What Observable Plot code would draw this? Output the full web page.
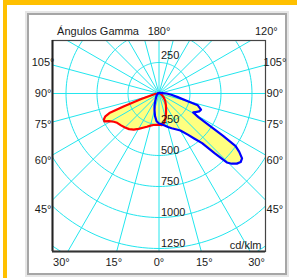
<!DOCTYPE html>
<html><head><meta charset="utf-8">
<script src="https://cdn.jsdelivr.net/npm/d3@7"></script>
<script src="https://cdn.jsdelivr.net/npm/@observablehq/plot@0.6"></script>
<style>
html,body{margin:0;padding:0;background:#fff;}
#wrap{position:relative;width:307px;height:278px;overflow:hidden;font-family:"Liberation Sans",Arial,sans-serif;}
.yt{position:absolute;left:3px;top:0;width:294px;height:5px;background:#ffc000;}
.yl{position:absolute;left:3px;top:0;width:4px;height:278px;background:#ffc000;}
.panel{position:absolute;left:27px;top:13px;width:260px;height:262px;box-sizing:border-box;border:2px solid #a6a6a6;box-shadow:0 0 0 2px #e6e6e6;}
#chart{position:absolute;left:0;top:0;}
</style></head><body>
<div id="wrap"><div class="yt"></div><div class="yl"></div><div class="panel"></div><div id="chart"></div></div>
<script>
// Grid values (cd/klm) and angle labels
const ringValues = [250, 500, 750, 1000, 1250, 1500, 1750];
const ringLabelsBelow = [250, 500, 750, 1000, 1250];
const ringLabelsAbove = [250];
const rayAngles = [0,15,30,45,60,75,90,105,120,135,150,165,180,195,210,225,240,255,270,285,300,315,330,345];
const sideLabelAngles = [105, 90, 75, 60, 45];
const bottomLabelAngles = [30, 15, 0, 15, 30];
const bottomLabelSides = [-1, -1, 0, 1, 1];
const topLabelAngles = [180, 120];
const axisTitle = "Ángulos Gamma";
const unitLabel = "cd/klm";

// Red curve: C0 (right half) and C180 (left half)
const gammaC0 = [0, 5, 10, 15, 20, 25, 30, 40, 50, 60, 75, 90, 120, 150, 180];
const intC0   = [252, 256, 240, 205, 165, 135, 112, 78, 50, 30, 15, 8, 5, 4, 4];
const gammaC180 = [0, 5, 10, 15, 20, 25, 30, 35, 40, 45, 50, 55, 58, 61, 63, 65, 67, 68.5, 70, 72.5, 75, 80, 85, 90, 120, 150, 180];
const intC180   = [252, 254, 258, 268, 285, 305, 330, 355, 375, 388, 400, 412, 430, 460, 495, 490, 470, 430, 300, 150, 80, 45, 25, 12, 6, 4, 4];

// Blue curve: C90 (right half) and C270 (left half)
const gammaC90 = [0, 5, 10, 15, 20, 25, 30, 35, 38, 41, 43, 44.5, 46, 48, 50, 52, 54, 55.5, 56.5, 57.5, 59, 61, 63, 66, 69, 73, 75, 79, 84, 88, 90, 120, 150, 180];
const intC90   = [242, 248, 262, 280, 298, 318, 345, 405, 460, 530, 660, 780, 815, 845, 860, 850, 800, 750, 620, 480, 370, 315, 330, 355, 363, 327, 240, 154, 100, 70, 60, 10, 5, 4];
const gammaC270 = [0, 5, 10, 15, 20, 25, 30, 40, 50, 60, 75, 90, 120, 150, 180];
const intC270   = [242, 225, 185, 140, 105, 75, 55, 35, 25, 18, 12, 10, 6, 4, 4];

const rad = d => d * Math.PI / 180;
function closedCurve(gR, iR, gL, iL) {
  const pts = [];
  gR.forEach((g, k) => pts.push({x: iR[k] * Math.sin(rad(g)), y: iR[k] * Math.cos(rad(g))}));
  for (let k = gL.length - 1; k >= 0; k--) pts.push({x: -iL[k] * Math.sin(rad(gL[k])), y: iL[k] * Math.cos(rad(gL[k]))});
  pts.push(pts[0]);
  return pts;
}
const redPts = closedCurve(gammaC0, intC0, gammaC180, intC180);
const bluePts = closedCurve(gammaC90, intC90, gammaC270, intC270);

const ringPts = [];
ringValues.forEach(r => { for (let t = 0; t <= 360; t += 2) ringPts.push({r, x: r * Math.sin(rad(t)), y: r * Math.cos(rad(t))}); });
const rayLen = 2500;

const sideLabels = sideLabelAngles.flatMap(a => [-1, 1].map(s => ({a, s})));
const sideX = 935, bottomY = 1363, topY = -500;

const grid = "#22e6ee", ink = "#1a1a1a";
const chart = Plot.plot({
  width: 307, height: 278,
  marginLeft: 52, marginRight: 42, marginTop: 40, marginBottom: 27,
  x: {domain: [-859, 859], axis: null},
  y: {domain: [1274.2, -427.4], axis: null},
  style: {background: "transparent", fontFamily: "'Liberation Sans', Arial, sans-serif", fontSize: "11px", color: ink},
  marks: [
    Plot.line(redPts, {x: "x", y: "y", fill: "#ffff80", stroke: "none", clip: true}),
    Plot.line(bluePts, {x: "x", y: "y", fill: "#ffff80", stroke: "none", clip: true}),
    Plot.line(ringPts, {x: "x", y: "y", z: "r", stroke: grid, strokeWidth: 1, clip: true}),
    Plot.link(rayAngles, {x1: () => 0, y1: () => 0, x2: a => rayLen * Math.sin(rad(a)), y2: a => rayLen * Math.cos(rad(a)), stroke: grid, strokeWidth: 1, clip: true}),
    Plot.line(redPts, {x: "x", y: "y", stroke: "#ff0000", strokeWidth: 2.2, strokeLinejoin: "round", clip: true}),
    Plot.line(bluePts, {x: "x", y: "y", stroke: "#0000ff", strokeWidth: 2.2, strokeLinejoin: "round", clip: true}),
    Plot.frame({stroke: "#444", strokeWidth: 1.2}),
    Plot.ruleX([-859], {stroke: "#222", strokeWidth: 2}),
    Plot.ruleY([1274.2], {stroke: "#333", strokeWidth: 2}),
    Plot.text(ringLabelsBelow, {x: () => 0, y: d => d, text: d => String(d), textAnchor: "start", lineAnchor: "bottom", dx: 2, dy: -1, fill: ink}),
    Plot.text(ringLabelsAbove, {x: () => 0, y: d => -d, text: d => String(d), textAnchor: "start", lineAnchor: "bottom", dx: 2, dy: -3, fill: ink}),
    Plot.text(sideLabels, {x: d => d.s * sideX, y: d => sideX * Math.cos(rad(d.a)) / Math.sin(rad(d.a)), text: d => d.a + "°", fill: ink}),
    Plot.text(bottomLabelAngles.map((a, k) => ({a, s: bottomLabelSides[k]})), {x: d => d.s * bottomY * Math.tan(rad(d.a)), y: () => bottomY, text: d => d.a + "°", fill: ink}),
    Plot.text(topLabelAngles, {x: a => topY * Math.sin(rad(a)) / Math.cos(rad(a)), y: () => topY, text: a => a + "°", fill: ink}),
    Plot.text([axisTitle], {x: () => 0, y: () => topY, text: d => d, textAnchor: "end", dx: -20, fill: ink}),
    Plot.text([unitLabel], {frameAnchor: "bottom-right", text: d => d, dx: -4, dy: -3, fill: ink})
  ]
});
document.getElementById("chart").appendChild(chart);
</script>
</body></html>
